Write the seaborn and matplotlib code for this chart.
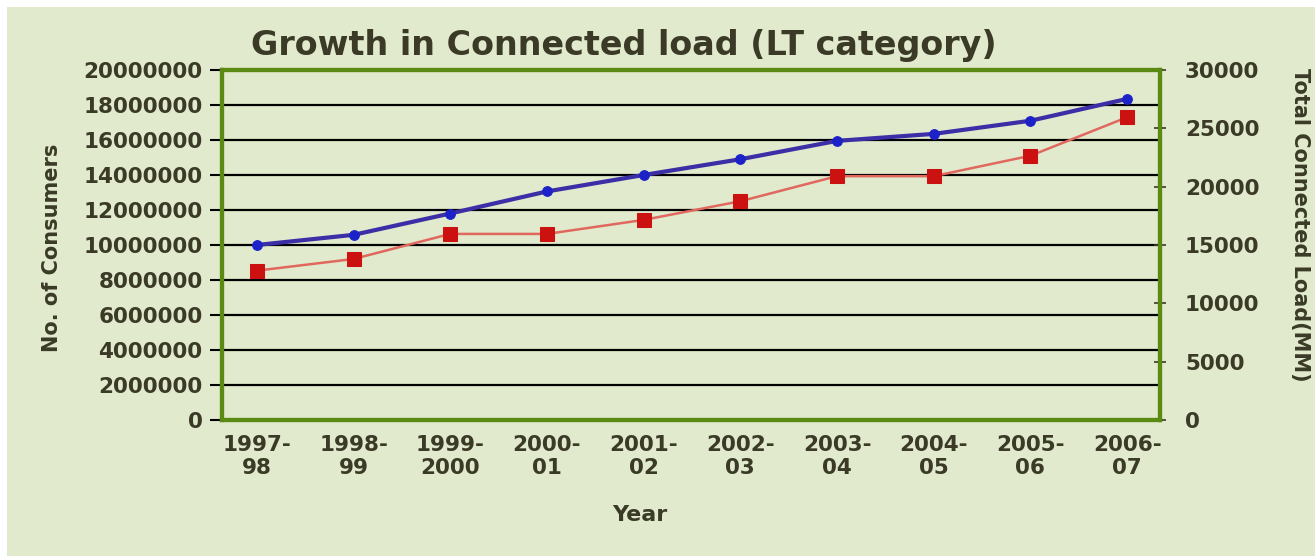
import matplotlib
matplotlib.use("Agg")
import matplotlib.pyplot as plt
import matplotlib.patches as mpatches
import seaborn as sns
import pandas as pd

years = ["1997-\n98", "1998-\n99", "1999-\n2000", "2000-\n01", "2001-\n02",
         "2002-\n03", "2003-\n04", "2004-\n05", "2005-\n06", "2006-\n07"]
consumers = [10000000, 10580000, 11800000, 13060000, 14000000,
             14900000, 15950000, 16350000, 17100000, 18350000]
connected_load = [12800, 13800, 15950, 15950, 17150,
                  18750, 20900, 20900, 22650, 25950]
left_ticks = [0, 2000000, 4000000, 6000000, 8000000, 10000000,
              12000000, 14000000, 16000000, 18000000, 20000000]
right_ticks = [0, 5000, 10000, 15000, 20000, 25000, 30000]

sns.set_style("white")
plt.rcParams['font.family'] = ['DejaVu Sans']

BG = "#e1eacd"
TXT = "#3a3a26"
GREEN = "#5b8a12"
W, H = 1315, 558

df = pd.DataFrame({"x": range(len(years)), "consumers": consumers,
                   "load": connected_load})

fig = plt.figure(figsize=(W / 100, H / 100), dpi=100, facecolor="white")
fig.patches.append(mpatches.Rectangle((7/W, 2/H), 1 - 7/W, 1 - 9/H,
                                      transform=fig.transFigure, facecolor=BG,
                                      edgecolor="none", zorder=-10))
x0, x1, ytop, ybot = 222, 1160, 70, 420
ax = fig.add_axes([x0/W, 1 - ybot/H, (x1-x0)/W, (ybot-ytop)/H])
ax.set_facecolor(BG)
ax2 = ax.twinx()

sns.lineplot(data=df, x="x", y="consumers", ax=ax, color="#3b2ea6", lw=3.0,
             marker="o", markersize=7, markerfacecolor="#1c22c8",
             markeredgecolor="#1c22c8", zorder=5)
sns.lineplot(data=df, x="x", y="load", ax=ax2, color="#e0685e", lw=1.8,
             marker="s", markersize=10, markerfacecolor="#cc1111",
             markeredgecolor="#cc1111", zorder=5)

ax.set_xlim(-0.36, 9.34)
ax.set_ylim(0, 20000000)
ax2.set_ylim(0, 30000)
ax.set_yticks(left_ticks)
ax.set_yticklabels([str(v) for v in left_ticks])
ax2.set_yticks(right_ticks)
ax2.set_yticklabels([str(v) for v in right_ticks])
ax.set_xticks(range(len(years)))
ax.set_xticklabels(years)

for v in left_ticks[1:-1]:
    ax.axhline(v, color="black", lw=1.6, zorder=1)

for a in (ax, ax2):
    for s in a.spines.values():
        s.set_color(GREEN)
        s.set_linewidth(3)
ax.tick_params(axis="y", length=9, width=1.5, color="black", pad=5,
               labelsize=15.5, labelcolor=TXT, left=True)
ax.tick_params(axis="x", length=0, pad=11, labelsize=15.5, labelcolor=TXT)
ax2.tick_params(axis="y", length=8, width=1.2, direction="inout", color=TXT,
                pad=14, labelsize=15.5, labelcolor=TXT, right=True)
for lab in ax.get_xticklabels() + ax.get_yticklabels() + ax2.get_yticklabels():
    lab.set_fontweight("bold")
for lab in ax.get_xticklabels():
    lab.set_linespacing(1.2)

ax.set_xlabel("Year", fontsize=16, fontweight="bold", color=TXT)
ax.xaxis.set_label_coords((640 - x0) / (x1 - x0), (ybot - 515) / (ybot - ytop))
ax.xaxis.label.set_va("center")
ax.set_ylabel("No. of Consumers", fontsize=15, fontweight="bold", color=TXT)
ax.yaxis.set_label_coords((52 - x0) / (x1 - x0), (ybot - 248) / (ybot - ytop))
ax.yaxis.label.set_va("center")
ax2.set_ylabel("Total Connected Load(MM)", fontsize=15, fontweight="bold",
               color=TXT, rotation=270)
ax2.yaxis.set_label_coords((1300 - x0) / (x1 - x0), (ybot - 225) / (ybot - ytop))
ax2.yaxis.label.set_va("center")
fig.text(624 / W, 1 - 45 / H, "Growth in Connected load (LT category)",
         fontsize=24, fontweight="bold", color=TXT, ha="center", va="center")
ax.grid(False)
ax2.grid(False)

fig.savefig("out.png", dpi=100, facecolor="white")
